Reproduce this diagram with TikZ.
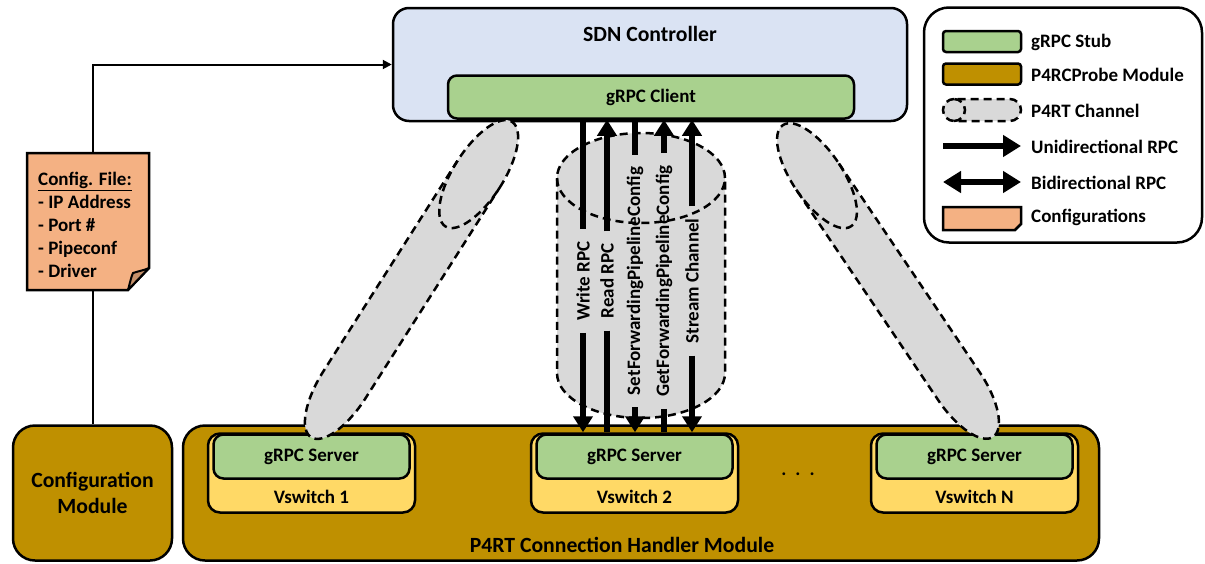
\documentclass[tikz,border=0pt]{standalone}
\usepackage{fontspec}
\setmainfont{Carlito}
\usetikzlibrary{arrows.meta}

\definecolor{ctrlblue}{HTML}{DAE3F3}
\definecolor{stubgreen}{HTML}{A9D18E}
\definecolor{modgold}{HTML}{BF9000}
\definecolor{swyellow}{HTML}{FFD966}
\definecolor{changray}{HTML}{D9D9D9}
\definecolor{cfgorange}{HTML}{F4B183}
\definecolor{cfgfold}{HTML}{C4906A}

\newcommand{\fbig}{\fontsize{21.7}{25}\selectfont\bfseries}
\newcommand{\fsmall}{\fontsize{19}{23}\selectfont\bfseries}

% dashed cylinder: centre x, centre y, tilt, half width, cap radius, half length of the straight part
\newcommand{\channel}[6]{%
  \begin{scope}[shift={(#1,#2)},rotate=#3]
    \draw[chanline,fill=changray] (#4,-#6)
      arc[start angle=0,end angle=-180,x radius=#4,y radius=#5]
      -- (-#4,#6)
      arc[start angle=180,end angle=0,x radius=#4,y radius=#5] -- cycle;
    \draw[chanline] (-#4,-#6) arc[start angle=180,end angle=0,x radius=#4,y radius=#5];
  \end{scope}}

\tikzset{
  box/.style={draw=black, line width=2.5pt, inner sep=0pt},
  chanline/.style={draw=black, line width=2.5pt, dash pattern=on 8pt off 5pt},
  rpcline/.style={line width=6pt},
  rpctip/.tip={Triangle[width=19pt,length=16pt]},
  keytip/.tip={Triangle[width=21pt,length=18pt]},
  lbl/.style={rotate=90, inner xsep=12pt, inner ysep=0pt, font=\fsmall},
  keytext/.style={anchor=west, inner sep=0pt, font=\fsmall},
}

\begin{document}
\begin{tikzpicture}[x=1pt,y=-1pt]
\useasboundingbox (0,0) rectangle (1205,563);

% controller
\node[box, fill=ctrlblue, rounded corners=16pt, minimum width=514pt, minimum height=113pt] (sdn) at (650,64.5) {};
\node[font=\fbig] (sdnlbl) at (650,34) {SDN Controller};
\node[box, fill=stubgreen, rounded corners=9pt, minimum width=406pt, minimum height=43pt, font=\fsmall] (client) at (651,97) {gRPC Client};

% modules
\node[box, fill=modgold, rounded corners=22pt, minimum width=916pt, minimum height=135pt] (handler) at (641,493) {};
\node[font=\fbig] (handlerlbl) at (622,545) {P4RT Connection Handler Module};
\node[box, fill=modgold, rounded corners=22pt, minimum width=159pt, minimum height=135pt, align=center, font=\fbig] (cfgmod) at (92.5,493) {Configuration\\[1pt]Module};

% switches
\node[box, fill=swyellow, rounded corners=12pt, minimum width=207pt, minimum height=79pt] (vs1) at (311.5,473) {};
\node[box, fill=stubgreen, rounded corners=10pt, minimum width=196pt, minimum height=44pt, font=\fsmall] (srv1) at (311.5,456.5) {gRPC Server};
\node[font=\fsmall] (vs1lbl) at (311.5,497) {Vswitch 1};

\node[box, fill=swyellow, rounded corners=12pt, minimum width=207pt, minimum height=79pt] (vs2) at (634.5,473) {};
\node[box, fill=stubgreen, rounded corners=10pt, minimum width=196pt, minimum height=44pt, font=\fsmall] (srv2) at (634.5,456.5) {gRPC Server};
\node[font=\fsmall] (vs2lbl) at (634.5,497) {Vswitch 2};

\node[box, fill=swyellow, rounded corners=12pt, minimum width=207pt, minimum height=79pt] (vsn) at (974.5,473) {};
\node[box, fill=stubgreen, rounded corners=10pt, minimum width=196pt, minimum height=44pt, font=\fsmall] (srvn) at (974.5,456.5) {gRPC Server};
\node[font=\fsmall] (vsnlbl) at (974.5,497) {Vswitch N};

\node[font=\fsmall] (dots) at (798,474) {.\hspace{9pt}.\hspace{9pt}.};

% P4Runtime channels
\channel{411.5}{279.5}{-32.5}{25}{62}{125}
\channel{888}{281}{34}{25}{61}{127}
\channel{641}{275.5}{0}{84}{45}{97.5}

% RPC labels and arrows
\node[lbl] (wr) at (583,281) {Write RPC};
\node[lbl] (rd) at (607,281) {Read RPC};
\node[lbl] (setc) at (635,281) {SetForwardingPipelineConfig};
\node[lbl] (getc) at (664,281) {GetForwardingPipelineConfig};
\node[lbl] (strm) at (692,281) {Stream Channel};

\draw[rpcline] (wr.east |- client.south) -- (wr.east);
\draw[rpcline,-rpctip] (wr.west) -- (wr.west |- vs2.north);
\draw[rpcline,-rpctip] (rd.east) -- (rd.east |- client.south);
\draw[rpcline] (rd.west) -- (rd.west |- vs2.north);
\draw[rpcline] (setc.east |- client.south) -- (setc.east);
\draw[rpcline,-rpctip] (setc.west) -- (setc.west |- vs2.north);
\draw[rpcline,-rpctip] (getc.east) -- (getc.east |- client.south);
\draw[rpcline] (getc.west) -- (getc.west |- vs2.north);
\draw[rpcline,-rpctip] (strm.east) -- (strm.east |- client.south);
\draw[rpcline,-rpctip] (strm.west) -- (strm.west |- vs2.north);

% configuration path
\draw[line width=2pt, -{Triangle[width=9pt,length=9pt]}] (cfgmod.north) |- (sdn.west);

\draw[line width=2.5pt, fill=cfgorange, line join=miter] (27,153) -- (149,153) -- (149,268) -- (128,290) -- (27,290) -- cycle;
\draw[line width=2pt, fill=cfgfold, line join=round] (128,290) .. controls (130,283) and (131,277) .. (133,273) .. controls (139,271) and (145,270) .. (149,268) -- cycle;
\node[font=\fsmall, align=left, anchor=west, inner sep=0pt] (cfgfile) at (38,225)
  {\underline{Config. File:}\\- IP Address\\- Port \#\\- Pipeconf\\- Driver};

% key
\node[box, fill=white, rounded corners=25pt, minimum width=278pt, minimum height=235pt] (legend) at (1063,125) {};
\node[box, fill=stubgreen, rounded corners=3pt, minimum width=78pt, minimum height=21pt] (kstub) at (982,41.5) {};
\node[keytext] (kstublbl) at (1031,42) {gRPC Stub};
\node[box, fill=modgold, rounded corners=3pt, minimum width=78pt, minimum height=21pt] (kmod) at (982,74) {};
\node[keytext] (kmodlbl) at (1031,75) {P4RCProbe Module};
\channel{982}{110}{90}{11}{11}{28}
\node[keytext] (kchanlbl) at (1031,111) {P4RT Channel};
\coordinate (ku1) at (943,146);
\coordinate (ku2) at (1021,146);
\draw[rpcline,-keytip] (ku1) -- (ku2);
\node[keytext] (kunilbl) at (1031,147) {Unidirectional RPC};
\coordinate (kb1) at (943,182);
\coordinate (kb2) at (1021,182);
\draw[rpcline,keytip-keytip] (kb1) -- (kb2);
\node[keytext] (kbilbl) at (1031,183) {Bidirectional RPC};
\draw[line width=2.5pt, fill=cfgorange, line join=miter] (943,207) -- (1021,207) -- (1021,224) -- (1015,230) -- (943,230) -- cycle;
\node[keytext] (kcfglbl) at (1031,217) {Configurations};
\end{tikzpicture}
\end{document}
